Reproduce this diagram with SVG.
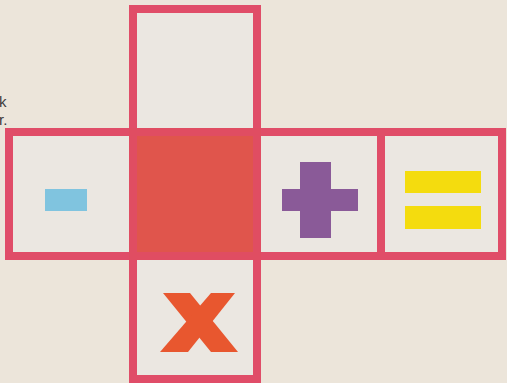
<svg xmlns="http://www.w3.org/2000/svg" width="507" height="383" viewBox="0 0 507 383">
  <style>
    .box { fill: #ebe7e1; stroke: #e04d68; stroke-width: 8; }
    .centre { fill: #e0554c; stroke: #e04d62; stroke-width: 8; }
    .txt { font-family: "Liberation Sans", Arial, sans-serif; font-size: 15px; fill: #3a3a3a; }
  </style>
  <rect x="0" y="0" width="507" height="383" fill="#ece5da"/>
  <g id="margin-text">
    <text class="txt" x="-1" y="107">k</text>
    <text class="txt" x="-1" y="125">r.</text>
  </g>
  <g id="connectors"></g>
  <g id="node-top">
    <rect class="box" x="133" y="9" width="124" height="123"/>
  </g>
  <g id="node-minus">
    <rect class="box" x="9" y="132" width="124" height="124"/>
    <rect x="45" y="189" width="42" height="22" fill="#80c4df"/>
  </g>
  <g id="node-plus">
    <rect class="box" x="257" y="132" width="124" height="124"/>
    <rect x="300" y="162" width="31" height="76" fill="#8a5a98"/>
    <rect x="282" y="189" width="76" height="22" fill="#8a5a98"/>
  </g>
  <g id="node-equals">
    <rect class="box" x="381" y="132" width="121" height="124"/>
    <rect x="405" y="171" width="76" height="22" fill="#f4dc0e"/>
    <rect x="405" y="206" width="76" height="23" fill="#f4dc0e"/>
  </g>
  <g id="node-times">
    <rect class="box" x="133" y="256" width="124" height="123"/>
    <polygon points="163,293 190,293 238,352 211,352" fill="#e8572f"/>
    <polygon points="235,293 211,293 160,352 188,352" fill="#e8572f"/>
  </g>
  <g id="node-centre">
    <rect class="centre" x="133" y="132" width="124" height="124"/>
  </g>
</svg>
